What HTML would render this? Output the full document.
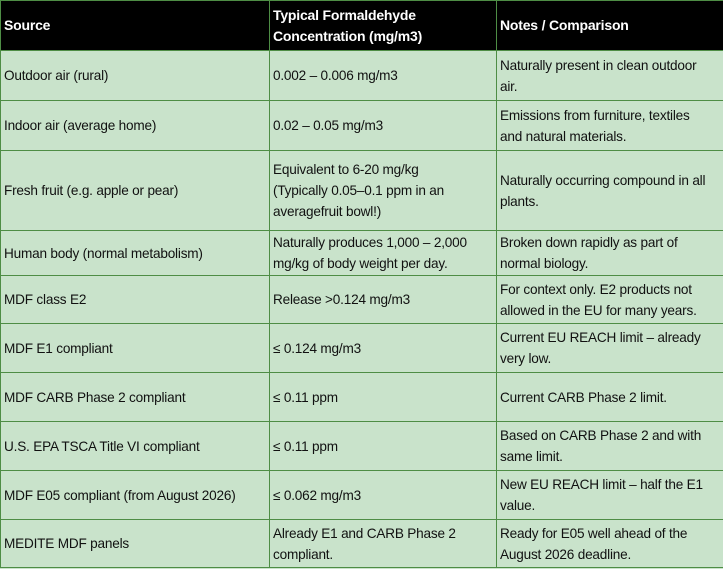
<!DOCTYPE html>
<html><head><meta charset="utf-8"><style>
html,body{margin:0;padding:0;background:#c9e3cb;}
body{width:723px;height:569px;overflow:hidden;font-family:"Liberation Sans",sans-serif;}
table{border-collapse:collapse;table-layout:fixed;width:723px;position:absolute;left:0;top:0;}
td{border:1.5px solid #4e8d45;padding:0 3px;font-size:13.6px;line-height:21px;color:#111;vertical-align:middle;background:#c9e3cb;overflow:hidden;white-space:nowrap;letter-spacing:-0.2px;}
tr.h td{background:#000;color:#fff;font-weight:bold;font-size:14px;}
</style></head><body>
<table>
<colgroup><col style="width:269px"><col style="width:227px"><col style="width:227px"></colgroup>
<tr class="h" style="height:50px"><td>Source</td><td>Typical Formaldehyde<br>Concentration (mg/m3)</td><td>Notes / Comparison</td></tr>
<tr style="height:50px"><td>Outdoor air (rural)</td><td>0.002 – 0.006 mg/m3</td><td>Naturally present in clean outdoor<br>air.</td></tr>
<tr style="height:50px"><td>Indoor air (average home)</td><td>0.02 – 0.05 mg/m3</td><td>Emissions from furniture, textiles<br>and natural materials.</td></tr>
<tr style="height:80px"><td>Fresh fruit (e.g. apple or pear)</td><td>Equivalent to 6-20 mg/kg<br>(Typically 0.05–0.1 ppm in an<br>averagefruit bowl!)</td><td>Naturally occurring compound in all<br>plants.</td></tr>
<tr style="height:45px"><td>Human body (normal metabolism)</td><td>Naturally produces 1,000 – 2,000<br>mg/kg of body weight per day.</td><td>Broken down rapidly as part of<br>normal biology.</td></tr>
<tr style="height:48px"><td>MDF class E2</td><td>Release &gt;0.124 mg/m3</td><td>For context only. E2 products not<br>allowed in the EU for many years.</td></tr>
<tr style="height:49px"><td>MDF E1 compliant</td><td>≤ 0.124 mg/m3</td><td>Current EU REACH limit – already<br>very low.</td></tr>
<tr style="height:49px"><td>MDF CARB Phase 2 compliant</td><td>≤ 0.11 ppm</td><td>Current CARB Phase 2 limit.</td></tr>
<tr style="height:49px"><td>U.S. EPA TSCA Title VI compliant</td><td>≤ 0.11 ppm</td><td>Based on CARB Phase 2 and with<br>same limit.</td></tr>
<tr style="height:49px"><td>MDF E05 compliant (from August 2026)</td><td>≤ 0.062 mg/m3</td><td>New EU REACH limit – half the E1<br>value.</td></tr>
<tr style="height:48px"><td>MEDITE MDF panels</td><td>Already E1 and CARB Phase 2<br>compliant.</td><td>Ready for E05 well ahead of the<br>August 2026 deadline.</td></tr>
</table>
</body></html>
